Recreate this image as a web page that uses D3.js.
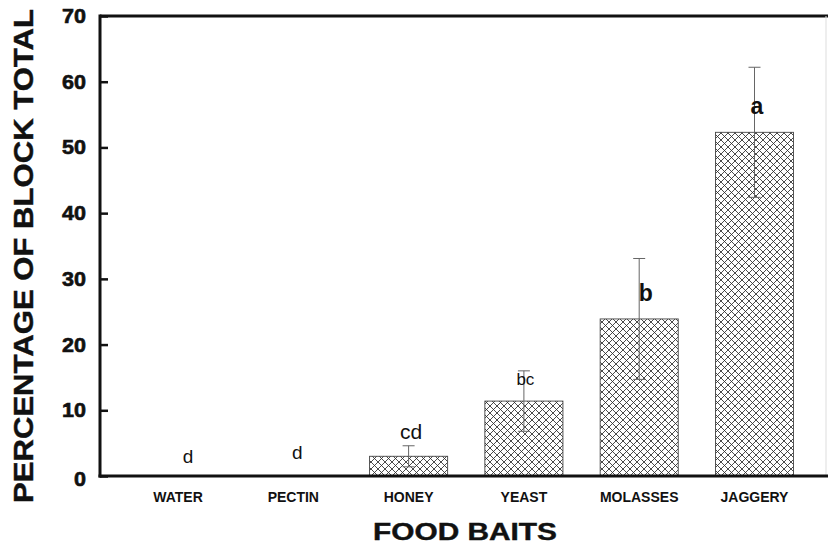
<!DOCTYPE html>
<html><head><meta charset="utf-8">
<script src="https://cdn.jsdelivr.net/npm/d3@7"></script>
<style>html,body{margin:0;padding:0;background:#fff;}svg{display:block;font-family:"Liberation Sans",Arial,sans-serif;}</style>
</head><body><svg id="c" width="828" height="544"></svg>
<script>
const categories = ["WATER","PECTIN","HONEY","YEAST","MOLASSES","JAGGERY"];
const means = [0, 0, 3.0, 11.4, 23.9, 52.3];
const errors = [0, 0, 1.6, 4.6, 9.2, 9.9];
const letters = ["d","d","cd","bc","b","a"];
const yTicks = [0,10,20,30,40,50,60,70];

const svg = d3.select("#c");
const x0 = 100, yTop = 16, yBot = 476;
const y = d3.scaleLinear().domain([0,70]).range([yBot, yTop]);
const x = d3.scaleBand().domain(categories).range([120.35, 812.15]).paddingInner(0.323).paddingOuter(0.1615);

const defs = svg.append("defs");
const pat = defs.append("pattern").attr("id","hatch").attr("patternUnits","userSpaceOnUse")
  .attr("width",7).attr("height",7);
pat.append("rect").attr("width",7).attr("height",7).attr("fill","#fff");
pat.append("path").attr("d","M0,0 L7,7 M7,0 L0,7 M-1,6 L1,8 M6,-1 L8,1 M6,8 L8,6 M-1,1 L1,-1")
  .attr("stroke","#2a2a2a").attr("stroke-width",0.85);

// bars
const g = svg.append("g");
categories.forEach((c,i)=>{
  if (means[i] > 0) {
    g.append("rect").attr("x", x(c)).attr("y", y(means[i]))
      .attr("width", x.bandwidth()).attr("height", y(0)-y(means[i]))
      .attr("fill","url(#hatch)").attr("stroke","#444").attr("stroke-width",0.9);
  }
});
// error bars
categories.forEach((c,i)=>{
  if (errors[i] > 0) {
    const cx = x(c) + x.bandwidth()/2;
    const hi = y(means[i]+errors[i]), lo = y(means[i]-errors[i]);
    g.append("line").attr("x1",cx).attr("x2",cx).attr("y1",hi).attr("y2",lo).attr("stroke","#666").attr("stroke-width",1);
    [hi,lo].forEach(v=>g.append("line").attr("x1",cx-6).attr("x2",cx+6).attr("y1",v).attr("y2",v).attr("stroke","#666").attr("stroke-width",1));
  }
});
// significance letters (positioned relative to bar centres and error-bar tops)
const letterSize = [19,19,21,17,23,23];
const letterWeight = ["normal","normal","normal","normal","bold","bold"];
const letterDx = [10,4,2.5,1.5,6.5,2.5];
categories.forEach((c,i)=>{
  const cx = x(c) + x.bandwidth()/2;
  let by;
  if (i === 0) by = yBot - 13;
  else if (i === 1) by = yBot - 17;
  else if (i === 2) by = y(means[i]+errors[i]) - 7;
  else if (i === 3) by = y(means[i]+errors[i]) + 14;
  else if (i === 4) by = y(means[i]+errors[i]) + 42.5;
  else by = y(means[i]+errors[i]) + 46.5;
  g.append("text").attr("x", cx + letterDx[i]).attr("y", by)
    .attr("text-anchor","middle").attr("font-size",letterSize[i]).attr("font-weight", letterWeight[i])
    .attr("fill","#111").text(letters[i]);
});

// axes frame
svg.append("line").attr("x1",x0).attr("x2",828).attr("y1",yTop).attr("y2",yTop).attr("stroke","#111").attr("stroke-width",3);
svg.append("line").attr("x1",826).attr("x2",826).attr("y1",yTop).attr("y2",yBot).attr("stroke","#ddd").attr("stroke-width",1);
svg.append("line").attr("x1",x0).attr("x2",x0).attr("y1",yTop-1.5).attr("y2",yBot+1.5).attr("stroke","#111").attr("stroke-width",3);
svg.append("line").attr("x1",x0-1.5).attr("x2",828).attr("y1",yBot).attr("y2",yBot).attr("stroke","#111").attr("stroke-width",3);

// y ticks
const yAxis = d3.axisRight(y).tickValues(yTicks).tickSize(8).tickFormat("");
const ya = svg.append("g").attr("transform",`translate(${x0},0)`).call(yAxis);
ya.select(".domain").remove();
ya.selectAll(".tick line").attr("stroke","#111").attr("stroke-width",2.5);
yTicks.forEach(t=>{
  svg.append("text").attr("x",86).attr("y",y(t) + (t===0?10:7)).attr("text-anchor","end")
    .attr("font-size",19.5).attr("font-weight","bold").attr("fill","#111")
    .attr("stroke","#111").attr("stroke-width",0.6)
    .attr("textLength", String(t).length*12).attr("lengthAdjust","spacingAndGlyphs").text(t);
});

// x labels
categories.forEach(c=>{
  svg.append("text").attr("x", x(c)+x.bandwidth()/2).attr("y",502).attr("text-anchor","middle")
    .attr("font-size",14).attr("font-weight","bold").attr("fill","#111").text(c);
});

// titles
svg.append("text").attr("x",465).attr("y",539.5).attr("text-anchor","middle")
  .attr("font-size",23).attr("font-weight","bold").attr("fill","#111")
  .attr("stroke","#111").attr("stroke-width",0.4)
  .attr("textLength",184).attr("lengthAdjust","spacingAndGlyphs").text("FOOD BAITS");
svg.append("text").attr("transform","translate(33,256) rotate(-90)").attr("text-anchor","middle")
  .attr("font-size",27.5).attr("font-weight","bold").attr("fill","#111")
  .attr("stroke","#111").attr("stroke-width",0.4)
  .attr("textLength",494).attr("lengthAdjust","spacingAndGlyphs").text("PERCENTAGE OF BLOCK TOTAL");
</script></body></html>
